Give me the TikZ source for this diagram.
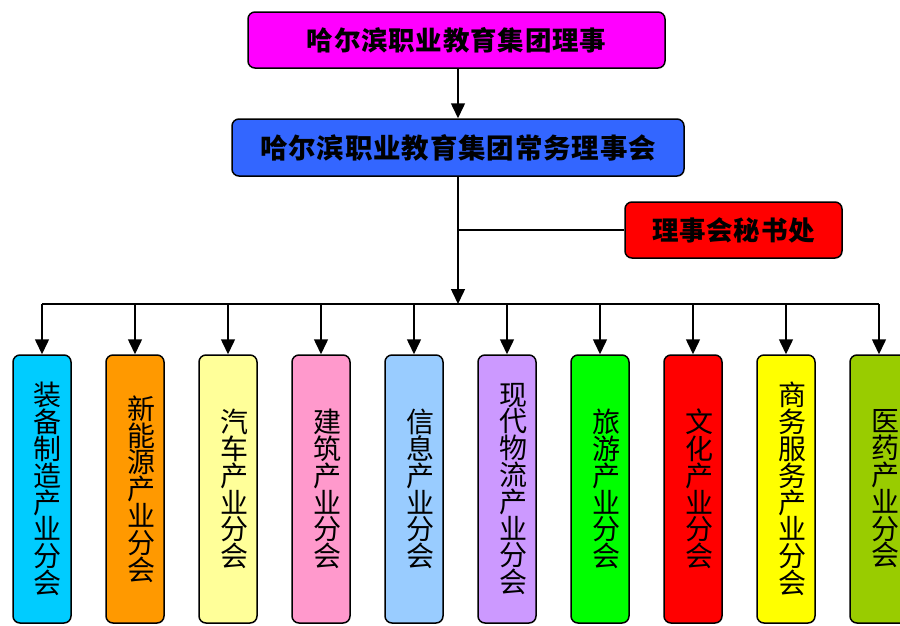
\documentclass[tikz,border=0pt]{standalone}
\usepackage{fontspec}
\setmainfont{Noto Sans CJK SC}
\newfontfamily\titlefont[LetterSpace=3]{Noto Sans CJK SC}
\usetikzlibrary{arrows.meta}

% box colours
\definecolor{councilmag}{HTML}{FF00FF}
\definecolor{standingblue}{HTML}{3366FF}
\definecolor{secred}{HTML}{FF0000}
\definecolor{brcyan}{HTML}{00CCFF}
\definecolor{brorange}{HTML}{FF9900}
\definecolor{brcream}{HTML}{FFFF99}
\definecolor{brpink}{HTML}{FF99CC}
\definecolor{brsky}{HTML}{99CCFF}
\definecolor{brlilac}{HTML}{CC99FF}
\definecolor{brgreen}{HTML}{00FF00}
\definecolor{brred}{HTML}{FF0000}
\definecolor{bryellow}{HTML}{FFFF00}
\definecolor{brolive}{HTML}{99CC00}

\begin{document}
\begin{tikzpicture}[x=1pt, y=-1pt, >={Triangle[width=14pt, length=15pt]}]

        % --- STYLES ---
        \tikzstyle{board} = [draw=black, line width=1.5pt, rounded corners=7pt, inner sep=0pt]
        \tikzstyle{title_box} = [board, font=\titlefont\bfseries\fontsize{26.5}{30}\selectfont]
        \tikzstyle{branch} = [board, minimum width=58pt, minimum height=268pt, text width=40pt, align=right, font=\fontsize{28}{26.8}\selectfont]
        \tikzstyle{link} = [draw=black, line width=1.5pt]

        % --- FRAME ---
        \clip (0,0) rectangle (900,625);

        % --- COUNCIL LEVELS ---
        \node[title_box, fill=councilmag, minimum width=417pt, minimum height=56pt] (council) at (456.5,40) {哈尔滨职业教育集团理事};
        \node[title_box, fill=standingblue, minimum width=452pt, minimum height=57pt, font=\titlefont\bfseries\fontsize{27.5}{30}\selectfont] (standing) at (458,147.5) {哈尔滨职业教育集团常务理事会};
        \node[title_box, fill=secred, minimum width=217pt, minimum height=56pt] (secretariat) at (733.5,230) {理事会秘书处};

        % --- TRUNK ---
        \coordinate (hub) at (458,304);
        \draw[link, ->] (standing.north |- council.south) -- (standing.north);
        \draw[link, ->] (standing) -- (hub);
        \draw[link] (secretariat.west) -- (secretariat.west -| standing.south);

        % --- BRANCH COMMITTEES ---
        \foreach \i/\col/\txt in {
            0/brcyan/{装\\备\\制\\造\\产\\业\\分\\会},
            1/brorange/{新\\能\\源\\产\\业\\分\\会},
            2/brcream/{汽\\车\\产\\业\\分\\会},
            3/brpink/{建\\筑\\产\\业\\分\\会},
            4/brsky/{信\\息\\产\\业\\分\\会},
            5/brlilac/{现\\代\\物\\流\\产\\业\\分\\会},
            6/brgreen/{旅\\游\\产\\业\\分\\会},
            7/brred/{文\\化\\产\\业\\分\\会},
            8/bryellow/{商\\务\\服\\务\\产\\业\\分\\会},
            9/brolive/{医\\药\\产\\业\\分\\会}} {
            \node[branch, fill=\col] (b\i) at (42+93*\i, 489) {\txt};
            \coordinate (tap\i) at (42+93*\i, 304);
            \draw[link, ->] (tap\i) -- (b\i);
        }

        % bus line
        \draw[link] (tap0) -- (tap9);

    \end{tikzpicture}
\end{document}
